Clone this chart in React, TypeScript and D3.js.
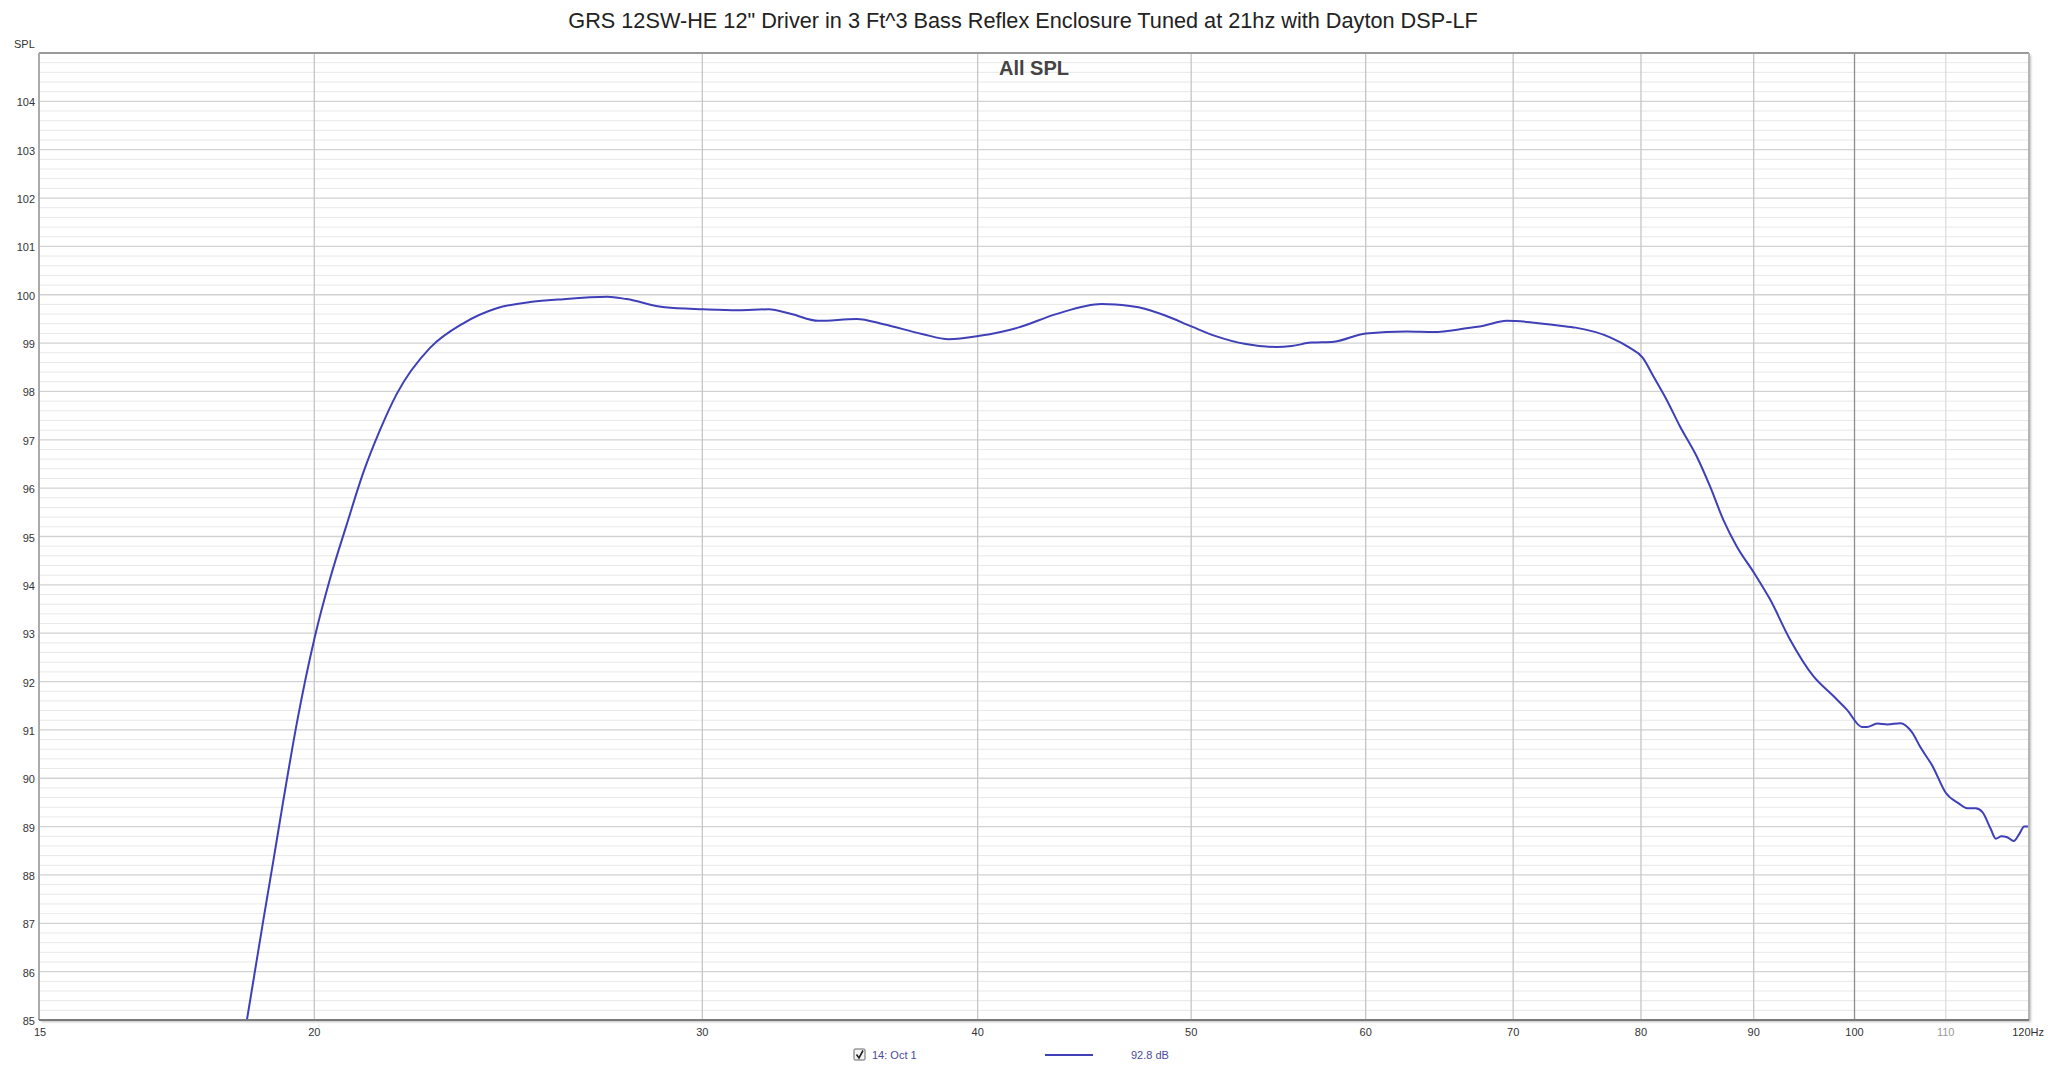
import React from "react";
import * as d3 from "d3";

const TITLE = 'GRS 12SW-HE 12" Driver in 3 Ft^3 Bass Reflex Enclosure Tuned at 21hz with Dayton DSP-LF';
const SUBTITLE = "All SPL";
const Y_LABEL = "SPL";
const LEGEND_NAME = "14: Oct 1";
const LEGEND_VALUE = "92.8 dB";

const xTicks = [15, 20, 30, 40, 50, 60, 70, 80, 90, 100, 110, 120];
const xTickLabels = ["15", "20", "30", "40", "50", "60", "70", "80", "90", "100", "110", "120Hz"];
const yTicks = [85, 86, 87, 88, 89, 90, 91, 92, 93, 94, 95, 96, 97, 98, 99, 100, 101, 102, 103, 104];

const freq = [
  18.64, 18.96, 19.16, 19.36, 19.64, 20.01, 20.33, 20.69, 21.05, 21.42, 21.8, 22.57, 23.37, 24.2, 25.06,
  25.79, 27.17, 27.72, 28.85, 30.03, 31.13, 32.15, 32.93, 33.87, 35.25, 36.26, 37.74, 38.81, 40.08,
  41.72, 43.42, 45.53, 46.19, 47.32, 48.66, 50.04, 51.26, 52.94, 54.66, 55.54, 56.67, 58.05, 60.01,
  62.64, 64.42, 66.52, 67.87, 69.52, 73.53, 74.72, 77.46, 79.02, 80.14, 81.03, 82.17, 83.32, 84.79,
  85.98, 87.18, 88.41, 90.03, 91.55, 93.48, 95.79, 97.82, 99.2, 100.8, 101.3, 102.4, 103.5, 104.9,
  106.2, 107.1, 108.5, 110.0, 111.5, 112.5, 113.5, 114.3, 115.3, 115.9, 116.6, 117.3, 118.1, 118.8,
  119.4, 120.0,
];
const spl = [
  85.0, 87.05, 88.28, 89.52, 91.15, 92.92, 94.12, 95.25, 96.32, 97.2, 97.95, 98.9, 99.41, 99.72, 99.85,
  99.9, 99.96, 99.91, 99.74, 99.7, 99.68, 99.7, 99.6, 99.46, 99.5, 99.39, 99.19, 99.08, 99.15,
  99.32, 99.6, 99.81, 99.8, 99.74, 99.57, 99.34, 99.15, 98.98, 98.92, 98.94, 99.01, 99.03, 99.2,
  99.24, 99.23, 99.3, 99.36, 99.46, 99.36, 99.32, 99.12, 98.91, 98.7, 98.32, 97.83, 97.28, 96.66,
  96.04, 95.35, 94.8, 94.25, 93.7, 92.87, 92.11, 91.7, 91.42, 91.06, 91.06, 91.13, 91.11, 91.14,
  90.95, 90.65, 90.25, 89.7, 89.48, 89.38, 89.38, 89.3, 88.95, 88.75, 88.8, 88.78, 88.7, 88.85,
  89.0, 89.0,
];

const W = 2048;
const H = 1068;
const PL = 39;
const PR = 2029;
const PT = 53;
const PB = 1020;

const FONT = "'Liberation Sans', Arial, sans-serif";
const LINE_COLOR = "#3f3fb8";

export default function App() {
  const x = d3.scaleLog().domain([15, 120]).range([PL, PR]);
  const y = d3.scaleLinear().domain([85, 105]).range([PB, PT]);
  const pts: [number, number][] = freq.map((f, i) => [f, spl[i]]);
  const line = d3
    .line<[number, number]>()
    .x((d) => x(d[0]))
    .y((d) => y(d[1]))
    .curve(d3.curveMonotoneX);

  const minor: number[] = [];
  for (let v = 85; v <= 105.001; v += 0.2) {
    const r = Math.round(v * 10) / 10;
    if (Math.abs(r - Math.round(r)) > 0.01) minor.push(r);
  }

  const vColor = (f: number) => (f === 100 ? "#8e8e8e" : f === 110 ? "#dedede" : "#c6c6c6");

  return (
    <svg
      width={W}
      height={H}
      style={{ position: "absolute", left: 0, top: 0, background: "#fff" }}
      fontFamily={FONT}
    >
      <defs>
        <clipPath id="plotclip">
          <rect x={PL} y={PT} width={PR - PL} height={PB - PT} />
        </clipPath>
        <filter id="shadow" x="-2%" y="-2%" width="104%" height="104%">
          <feDropShadow dx="2" dy="2" stdDeviation="1.2" floodColor="#000" floodOpacity="0.25" />
        </filter>
      </defs>
      <rect width={W} height={H} fill="#fff" />
      <text x={1023} y={28} textAnchor="middle" fontSize={21.7} fill="#222">
        {TITLE}
      </text>

      <rect x={PL} y={PT} width={PR - PL} height={PB - PT} fill="#fff" filter="url(#shadow)" />

      {minor.map((v) => (
        <line key={"mn" + v} x1={PL} x2={PR} y1={y(v)} y2={y(v)} stroke="#e8e8e8" strokeWidth={1} />
      ))}
      {yTicks.map((v) => (
        <line key={"mj" + v} x1={PL} x2={PR} y1={y(v)} y2={y(v)} stroke="#d2d2d2" strokeWidth={1.3} />
      ))}
      {xTicks.slice(1, -1).map((f) => (
        <line key={"vx" + f} x1={x(f)} x2={x(f)} y1={PT} y2={PB} stroke={vColor(f)} strokeWidth={1.3} />
      ))}

      <text x={1034} y={75} textAnchor="middle" fontSize={20} fontWeight="bold" fill="#444">
        {SUBTITLE}
      </text>

      <path
        d={line(pts) || ""}
        fill="none"
        stroke={LINE_COLOR}
        strokeWidth={2}
        clipPath="url(#plotclip)"
      />

      <line x1={PL} x2={PR} y1={PT} y2={PT} stroke="#9a9a9a" strokeWidth={2} />
      <line x1={PL} x2={PL} y1={PT} y2={PB} stroke="#ababab" strokeWidth={2} />
      <line x1={PR} x2={PR} y1={PT} y2={PB} stroke="#b5b5b5" strokeWidth={2} />
      <line x1={PL} x2={PR} y1={PB} y2={PB} stroke="#7a7a7a" strokeWidth={2} />

      <text x={14} y={48} fontSize={11} fill="#333">
        {Y_LABEL}
      </text>
      {yTicks.map((v) => (
        <text key={"yl" + v} x={35} y={y(v) + 5} textAnchor="end" fontSize={11} fill="#333">
          {v}
        </text>
      ))}
      {xTicks.map((f, i) => {
        const last = i === xTicks.length - 1;
        return (
          <text
            key={"xl" + f}
            x={last ? 2044 : x(f) + (i === 0 ? 1 : 0)}
            y={1036}
            textAnchor={last ? "end" : "middle"}
            fontSize={11}
            fill={f === 110 ? "#9a9a9a" : "#333"}
          >
            {xTickLabels[i]}
          </text>
        );
      })}

      <g>
        <rect x={854} y={1049} width={11} height={11} fill="#f4f4f4" stroke="#666" strokeWidth={1} rx={1} />
        <path d="M856.5 1054.5 L859 1058 L863 1050.5" fill="none" stroke="#222" strokeWidth={1.6} />
        <text x={872} y={1059} fontSize={11} fill="#4a4aa0">
          {LEGEND_NAME}
        </text>
        <line x1={1045} x2={1093} y1={1055} y2={1055} stroke={LINE_COLOR} strokeWidth={2} />
        <text x={1131} y={1059} fontSize={11} fill="#4a4aa0">
          {LEGEND_VALUE}
        </text>
      </g>
    </svg>
  );
}
